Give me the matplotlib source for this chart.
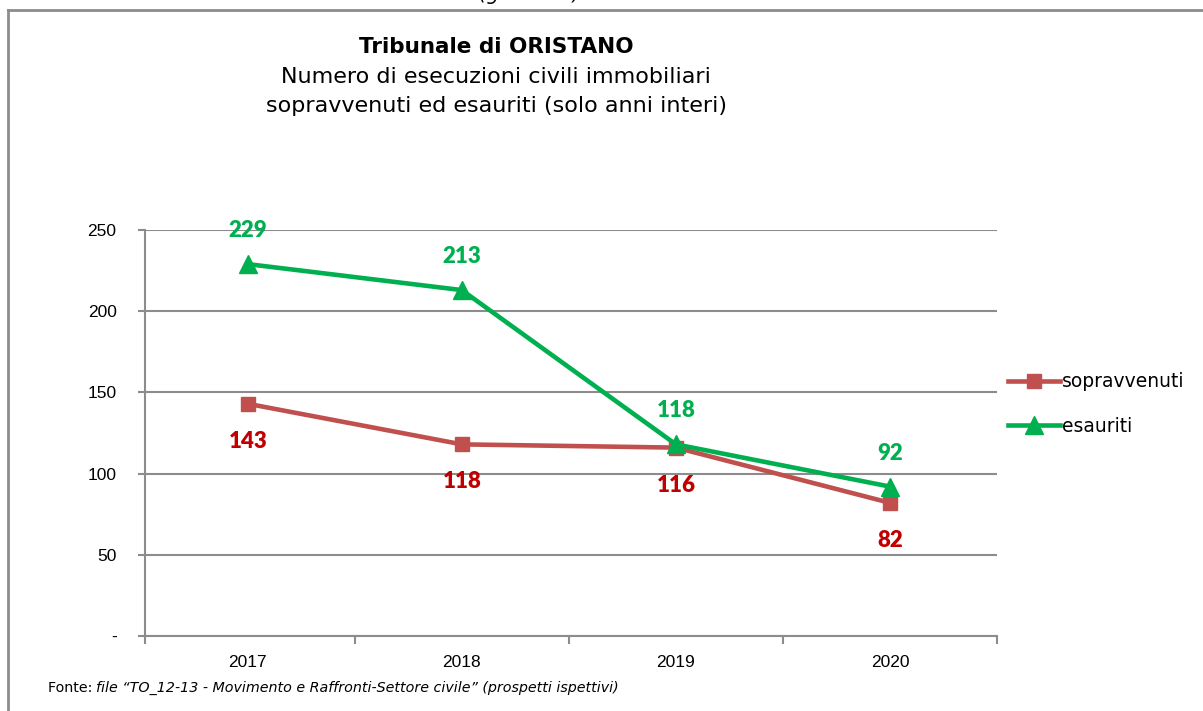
import matplotlib
matplotlib.use("Agg")
import matplotlib.pyplot as plt
from matplotlib.lines import Line2D

years = ["2017", "2018", "2019", "2020"]
sopravvenuti = [143, 118, 116, 82]
esauriti = [229, 213, 118, 92]
yticks = [0, 50, 100, 150, 200, 250]
ytick_labels = ["-", "50", "100", "150", "200", "250"]

RED = "#C0504D"
RED_LBL = "#C00000"
GREEN = "#00B050"

W, H = 1203, 711
fig = plt.figure(figsize=(W / 100, H / 100), dpi=100)

# outer frame (top and left visible)
fig.add_artist(Line2D([8 / W, 1.0], [1 - 10 / H, 1 - 10 / H], color="#8c8c8c", lw=2.0))
fig.add_artist(Line2D([8 / W, 8 / W], [0, 1 - 10 / H], color="#8c8c8c", lw=2.0))

fig.text(530 / W, 1 + 5 / H, "(grafico 9)", ha="center", va="center", fontsize=14,
         style="italic", family="DejaVu Sans")

ax = fig.add_axes([145 / W, 1 - 636 / H, (997 - 145) / W, (636 - 230) / H])
x = list(range(len(years)))
ax.plot(x, sopravvenuti, color=RED, lw=3.3, marker="s", ms=10, zorder=3, label="sopravvenuti")
ax.plot(x, esauriti, color=GREEN, lw=3.3, marker="^", ms=12.5, zorder=4, label="esauriti")

ax.set_xlim(-0.48, 3.5)
ax.set_ylim(0, 250)
ax.set_yticks(yticks)
ax.set_yticklabels(ytick_labels, family="Liberation Sans", fontsize=12.5)
ax.set_xticks(x)
ax.set_xticklabels(years, family="Liberation Sans", fontsize=12.5)
ax.set_xticks([-0.48, 0.5, 1.5, 2.5, 3.5], minor=True)
ax.tick_params(axis="x", which="major", length=0, pad=14)
ax.tick_params(axis="x", which="minor", length=6, color="#8c8c8c", width=1.5)
ax.tick_params(axis="y", length=5, color="#8c8c8c", width=1.5, pad=15.5)
ax.grid(axis="y", color="#8c8c8c", lw=1.5)
ax.set_axisbelow(True)
for s in ["top", "right"]:
    ax.spines[s].set_visible(False)
for s in ["left", "bottom"]:
    ax.spines[s].set_color("#8c8c8c")
    ax.spines[s].set_linewidth(1.5)

for xi, v in zip(x, esauriti):
    ax.annotate(str(v), (xi, v), xytext=(0, 16.5), textcoords="offset points", ha="center",
                va="bottom", color=GREEN, fontsize=16, fontweight="heavy", family="Lato")
for xi, v in zip(x, sopravvenuti):
    ax.annotate(str(v), (xi, v), xytext=(0, -19.5), textcoords="offset points", ha="center",
                va="top", color=RED_LBL, fontsize=16, fontweight="heavy", family="Lato")

leg = fig.legend(loc="center left", bbox_to_anchor=(991 / W, 1 - 404 / H), frameon=False,
                 handlelength=2.8, labelspacing=1.35, handletextpad=0.1,
                 prop={"family": "DejaVu Sans", "size": 13.5})

cx = 0.5 * (355 + 637) / W
fig.text(cx, 1 - 47 / H, "Tribunale di ORISTANO", ha="center", va="center",
         fontsize=15.5, fontweight="bold", family="DejaVu Sans")
fig.text(cx, 1 - 77 / H, "Numero di esecuzioni civili immobiliari", ha="center",
         va="center", fontsize=16, family="DejaVu Sans")
fig.text(cx, 1 - 106 / H, "sopravvenuti ed esauriti (solo anni interi)", ha="center",
         va="center", fontsize=16, family="DejaVu Sans")

fig.text(48 / W, 1 - 688 / H, "Fonte: ", ha="left", va="center", fontsize=10.3, family="DejaVu Sans")
fig.text(96 / W, 1 - 688 / H,
         "file \u201cTO_12-13 - Movimento e Raffronti-Settore civile\u201d (prospetti ispettivi)",
         ha="left", va="center", fontsize=10.3, style="italic", family="DejaVu Sans")

fig.savefig("out.png", dpi=100)
